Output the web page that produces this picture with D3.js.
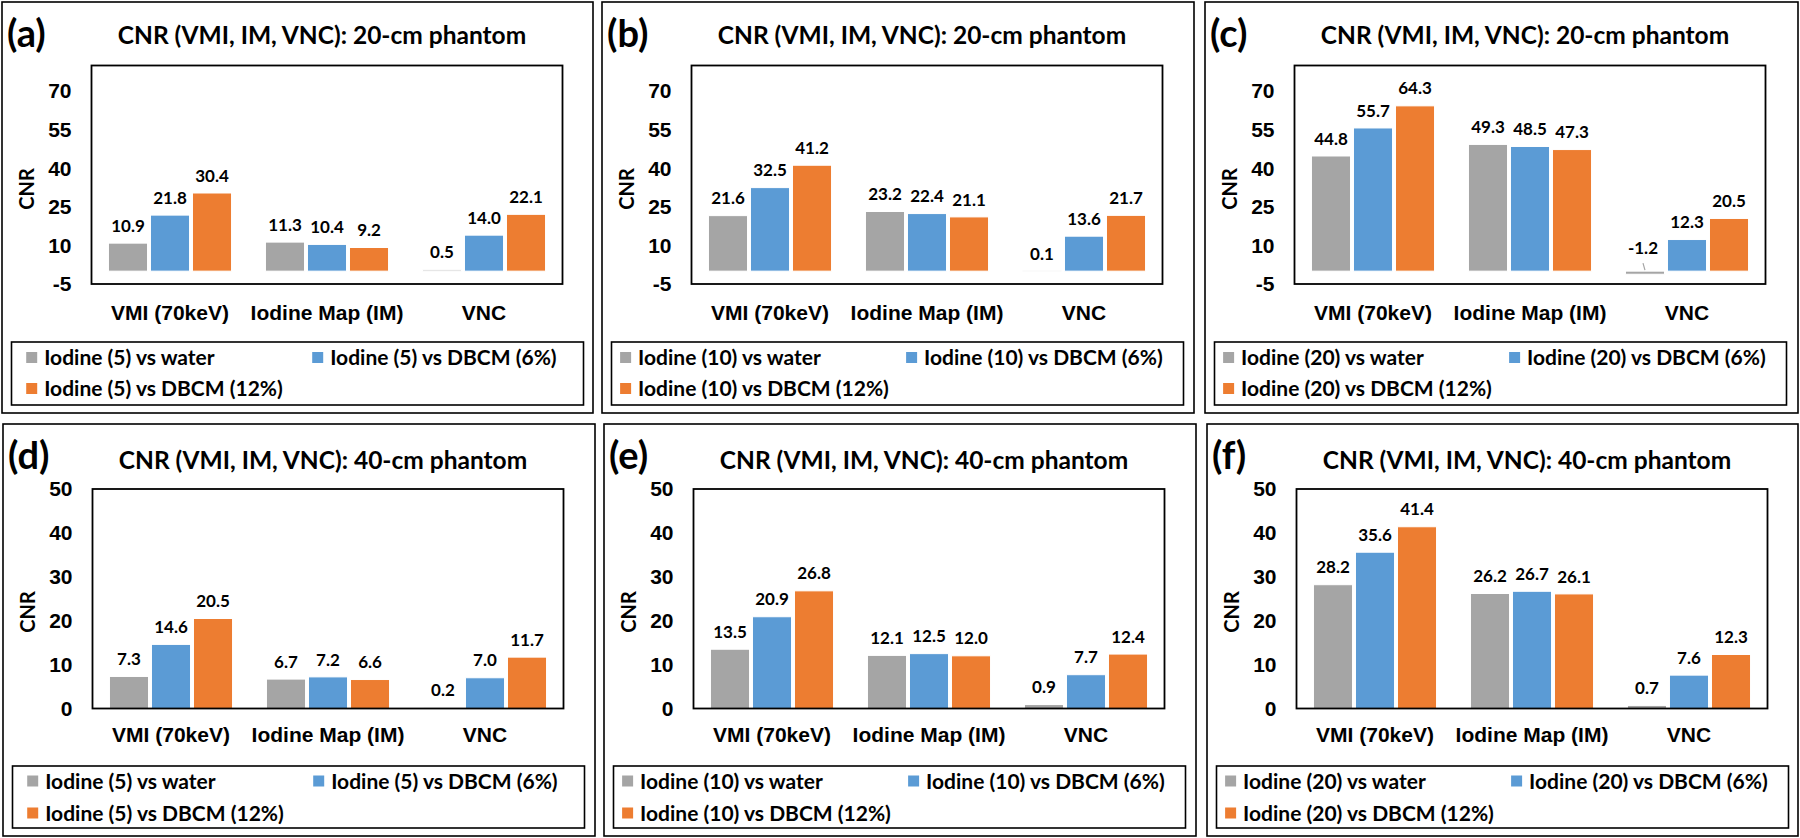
<!DOCTYPE html>
<html>
<head>
<meta charset="utf-8">
<script src="https://cdn.jsdelivr.net/npm/d3@7"></script>
<style>
  html, body { margin: 0; padding: 0; background: #fff; }
  svg { display: block; font-family: Lato, "Liberation Sans", sans-serif; }
  text { font-weight: bold; fill: #000; }
</style>
</head>
<body>
<svg id="chart" width="1800" height="838"></svg>
<script>
// ---------------- DATA ----------------
const categories = ["VMI (70keV)", "Iodine Map (IM)", "VNC"];
const panelLetters = ["(a)", "(b)", "(c)", "(d)", "(e)", "(f)"];
const panelTitles = [
  "CNR (VMI, IM, VNC): 20-cm phantom",
  "CNR (VMI, IM, VNC): 20-cm phantom",
  "CNR (VMI, IM, VNC): 20-cm phantom",
  "CNR (VMI, IM, VNC): 40-cm phantom",
  "CNR (VMI, IM, VNC): 40-cm phantom",
  "CNR (VMI, IM, VNC): 40-cm phantom"
];
const yAxisTitle = "CNR";

// series values per panel: [vs water, vs DBCM (6%), vs DBCM (12%)], each over categories
const a_water = [10.9, 11.3, 0.5];
const a_dbcm6 = [21.8, 10.4, 14.0];
const a_dbcm12 = [30.4, 9.2, 22.1];

const b_water = [21.6, 23.2, 0.1];
const b_dbcm6 = [32.5, 22.4, 13.6];
const b_dbcm12 = [41.2, 21.1, 21.7];

const c_water = [44.8, 49.3, -1.2];
const c_dbcm6 = [55.7, 48.5, 12.3];
const c_dbcm12 = [64.3, 47.3, 20.5];

const d_water = [7.3, 6.7, 0.2];
const d_dbcm6 = [14.6, 7.2, 7.0];
const d_dbcm12 = [20.5, 6.6, 11.7];

const e_water = [13.5, 12.1, 0.9];
const e_dbcm6 = [20.9, 12.5, 7.7];
const e_dbcm12 = [26.8, 12.0, 12.4];

const f_water = [28.2, 26.2, 0.7];
const f_dbcm6 = [35.6, 26.7, 7.6];
const f_dbcm12 = [41.4, 26.1, 12.3];

const legend_5 = ["Iodine (5) vs water", "Iodine (5) vs DBCM (6%)", "Iodine (5) vs DBCM (12%)"];
const legend_10 = ["Iodine (10) vs water", "Iodine (10) vs DBCM (6%)", "Iodine (10) vs DBCM (12%)"];
const legend_20 = ["Iodine (20) vs water", "Iodine (20) vs DBCM (6%)", "Iodine (20) vs DBCM (12%)"];

const ticks20cm = [-5, 10, 25, 40, 55, 70];
const domain20cm = [-5, 80];
const ticks40cm = [0, 10, 20, 30, 40, 50];
const domain40cm = [0, 50];

const seriesColors = ["#A5A5A5", "#5B9BD5", "#ED7D31"];

const panels = [
  { values: [a_water, a_dbcm6, a_dbcm12], legend: legend_5, ticks: ticks20cm, domain: domain20cm },
  { values: [b_water, b_dbcm6, b_dbcm12], legend: legend_10, ticks: ticks20cm, domain: domain20cm },
  { values: [c_water, c_dbcm6, c_dbcm12], legend: legend_20, ticks: ticks20cm, domain: domain20cm },
  { values: [d_water, d_dbcm6, d_dbcm12], legend: legend_5, ticks: ticks40cm, domain: domain40cm },
  { values: [e_water, e_dbcm6, e_dbcm12], legend: legend_10, ticks: ticks40cm, domain: domain40cm },
  { values: [f_water, f_dbcm6, f_dbcm12], legend: legend_20, ticks: ticks40cm, domain: domain40cm }
];

// ---------------- LAYOUT ----------------
const boxes = [
  { x0: 2, x1: 593, y0: 2, y1: 413 },
  { x0: 602, x1: 1194, y0: 2, y1: 413 },
  { x0: 1205, x1: 1798, y0: 2, y1: 413 },
  { x0: 3, x1: 595, y0: 424, y1: 836 },
  { x0: 604, x1: 1196, y0: 424, y1: 836 },
  { x0: 1207, x1: 1798, y0: 424, y1: 836 }
];
const rowLayout = [
  { frameTop: 65.5, frameBottom: 284, letterY: 32.5, titleY: 35, cnrY: 189, catY: 312, legTop: 342, legBottom: 405, legRows: [357.5, 388.5] },
  { frameTop: 489, frameBottom: 708.5, letterY: 454.5, titleY: 460.5, cnrY: 612, catY: 734.5, legTop: 766, legBottom: 828, legRows: [781, 813] }
];

const CAP = 0.36; // half cap-height ratio for Lato
const fs = { letter: 38, title: 24.5, tick: 21, cnr: 20, cat: 21, label: 17, legend: 21 };
const loc = d3.formatLocale({ decimal: ".", thousands: ",", grouping: [3], currency: ["", ""], minus: "-" });
const fmt = loc.format(".1f");
const tickFmt = loc.format("d");

const svg = d3.select("#chart");
svg.append("rect").attr("width", 1800).attr("height", 838).attr("fill", "#fff");

panels.forEach((p, i) => {
  const b = boxes[i];
  const L = rowLayout[i < 3 ? 0 : 1];
  const g = svg.append("g");

  // panel border
  g.append("rect")
    .attr("x", b.x0).attr("y", b.y0)
    .attr("width", b.x1 - b.x0).attr("height", b.y1 - b.y0)
    .attr("fill", "none").attr("stroke", "#000").attr("stroke-width", 1.6);

  // letter
  g.append("text")
    .attr("x", b.x0 + 5).attr("y", L.letterY + CAP * fs.letter * 1.05)
    .attr("font-size", fs.letter)
    .text(panelLetters[i]);

  // title
  g.append("text")
    .attr("x", b.x0 + 320).attr("y", L.titleY + CAP * fs.title)
    .attr("text-anchor", "middle")
    .attr("font-size", fs.title)
    .text(panelTitles[i]);

  const fx0 = b.x0 + 89.5, fx1 = fx0 + 471;
  const y = d3.scaleLinear().domain(p.domain).range([L.frameBottom, L.frameTop]);
  const x0 = d3.scaleBand().domain(categories).range([fx0, fx1]);
  const bw = x0.bandwidth();
  const x1 = d3.scaleBand().domain([0, 1, 2]).range([bw * 0.108, bw * 0.892]).paddingInner(0.07);

  // bars
  p.values.forEach((series, s) => {
    g.append("g").selectAll("rect")
      .data(series.map((v, c) => ({ v, c })))
      .join("rect")
      .attr("x", d => x0(categories[d.c]) + x1(s))
      .attr("y", d => y(Math.max(d.v, 0)))
      .attr("width", x1.bandwidth())
      .attr("height", d => Math.abs(y(d.v) - y(0)))
      .attr("fill", seriesColors[s])
      .attr("stroke", "#fff").attr("stroke-width", 1);
  });

  // data labels
  p.values.forEach((series, s) => {
    series.forEach((v, c) => {
      const cx = x0(categories[c]) + x1(s) + x1.bandwidth() / 2;
      const neg = v < 0;
      const cy = y(Math.max(v, 0)) - (neg ? 23 : 17.5);
      g.append("text")
        .attr("x", neg ? cx - 2 : cx).attr("y", cy + CAP * fs.label)
        .attr("text-anchor", "middle")
        .attr("font-size", fs.label)
        .text(fmt(v));
      if (neg) {
        g.append("line")
          .attr("x1", cx - 2).attr("y1", cy + 15)
          .attr("x2", cx).attr("y2", y(0) - 1)
          .attr("stroke", "#A5A5A5").attr("stroke-width", 1.2);
      }
    });
  });

  // plot frame
  g.append("rect")
    .attr("x", fx0).attr("y", L.frameTop)
    .attr("width", fx1 - fx0).attr("height", L.frameBottom - L.frameTop)
    .attr("fill", "none").attr("stroke", "#000").attr("stroke-width", 1.8);

  // y axis
  const ya = g.append("g")
    .attr("transform", `translate(${fx0},0)`)
    .call(d3.axisLeft(y).tickValues(p.ticks).tickSize(0).tickPadding(20).tickFormat(tickFmt));
  ya.select(".domain").remove();
  ya.selectAll("text").attr("font-size", fs.tick).attr("font-family", null).attr("fill", "#000");

  // x axis (category labels)
  const xa = g.append("g")
    .attr("transform", `translate(0,${L.frameBottom})`)
    .call(d3.axisBottom(x0).tickSize(0).tickPadding(0));
  xa.select(".domain").remove();
  xa.selectAll("text")
    .attr("font-size", fs.cat).attr("font-family", null).attr("fill", "#000")
    .attr("dy", null)
    .attr("y", L.catY - L.frameBottom + CAP * fs.cat);

  // y axis title
  g.append("text")
    .attr("transform", `translate(${b.x0 + 25 + CAP * fs.cnr},${L.cnrY}) rotate(-90)`)
    .attr("text-anchor", "middle")
    .attr("font-size", fs.cnr)
    .text(yAxisTitle);

  // legend
  const lx0 = b.x0 + 9.5, lx1 = b.x0 + 581.5;
  g.append("rect")
    .attr("x", lx0).attr("y", L.legTop)
    .attr("width", lx1 - lx0).attr("height", L.legBottom - L.legTop)
    .attr("fill", "none").attr("stroke", "#000").attr("stroke-width", 1.6);

  const items = g.append("g");
  const texts = p.legend.map(t => items.append("text").attr("font-size", fs.legend).text(t));
  const maxW = d3.max(texts, t => t.node().getComputedTextLength());
  const entryW = 11 + 7 + maxW;
  const pitch = 286;
  const start1 = (lx0 + lx1) / 2 - (pitch + entryW) / 2;
  const pos = [[start1, 0], [start1 + pitch, 0], [start1, 1]];
  texts.forEach((t, k) => {
    const [sx, r] = pos[k];
    const cy = L.legRows[r];
    items.append("rect")
      .attr("x", sx).attr("y", cy - 5.5)
      .attr("width", 11).attr("height", 11)
      .attr("fill", seriesColors[k]);
    t.attr("x", sx + 18).attr("y", cy + CAP * fs.legend);
  });
});
</script>
</body>
</html>
